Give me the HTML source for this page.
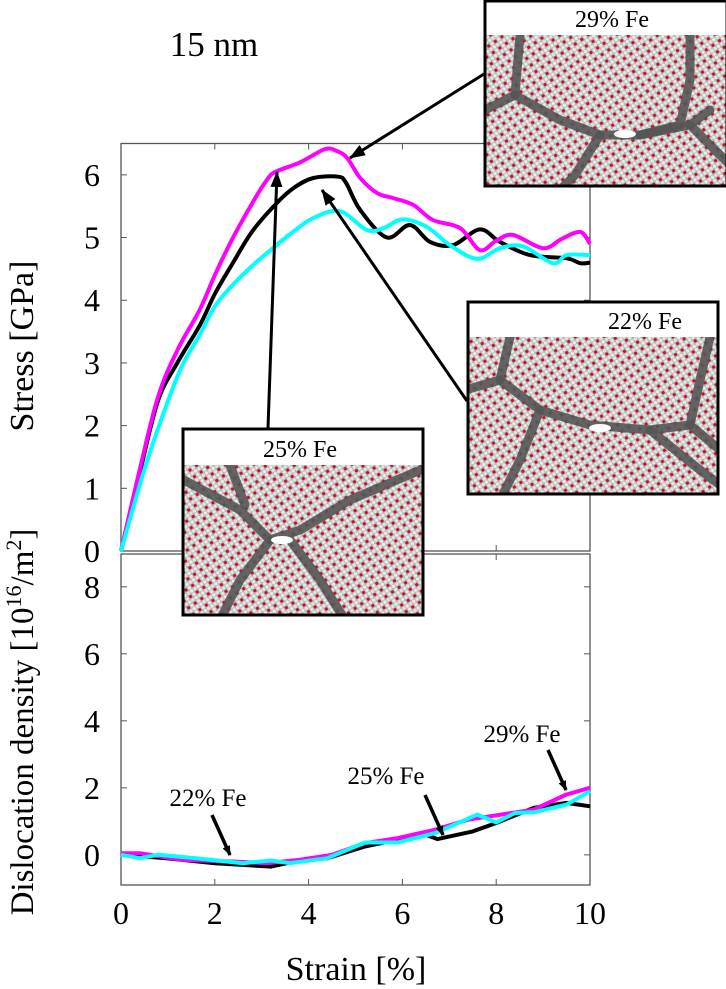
<!DOCTYPE html>
<html><head><meta charset="utf-8"><style>
html,body{margin:0;padding:0;background:#fff;}
svg{display:block;font-family:"Liberation Serif","DejaVu Serif",serif;}
</style></head><body>
<svg id="chart" width="726" height="989" viewBox="0 0 726 989" xmlns="http://www.w3.org/2000/svg">
<defs>
<pattern id="atoms" width="8" height="8" patternUnits="userSpaceOnUse" patternTransform="rotate(-35)">
<rect width="8" height="8" fill="#b4b4b4"/>
<circle cx="2" cy="2" r="1.7" fill="#ececec"/>
<circle cx="6" cy="2" r="1.7" fill="#e2e2e2"/>
<circle cx="2" cy="6" r="1.7" fill="#e6e6e6"/>
<circle cx="6" cy="6" r="1.6" fill="#cc1020"/>
</pattern>
<marker id="ah" markerWidth="10" markerHeight="8" refX="9" refY="4" orient="auto" markerUnits="userSpaceOnUse"><path d="M0,0 L10,4 L0,8 z" fill="#000"/></marker>
<marker id="ahb" markerWidth="16" markerHeight="12" refX="15" refY="6" orient="auto" markerUnits="userSpaceOnUse"><path d="M0,0 L16,6 L0,12 z" fill="#000"/></marker>
</defs>
<text x="214" y="56" font-size="35" text-anchor="middle">15 nm</text>
<g id="gtop"></g>
<g id="gbot"></g>
<text transform="translate(33,346) rotate(-90)" font-size="34" text-anchor="middle">Stress [GPa]</text>
<text transform="translate(33,722) rotate(-90)" font-size="33" text-anchor="middle">Dislocation density [10<tspan baseline-shift="super" font-size="22">16</tspan>/m<tspan baseline-shift="super" font-size="22">2</tspan>]</text>
<text x="356" y="980" font-size="34" text-anchor="middle">Strain [%]</text>
<g id="insets"></g>
<g id="annot"></g>
</svg>
<script>
const strainM=[0,0.4,0.79,1.2,1.68,2.0,2.39,2.8,3.11,3.3,3.82,4.35,4.6,4.82,5.1,5.46,5.8,6.23,6.65,7.23,7.65,8.0,8.36,9.0,9.4,9.79,10];
const stressM=[0,1.3,2.46,3.2,3.85,4.4,5.0,5.55,5.92,6.05,6.2,6.41,6.38,6.27,5.95,5.71,5.63,5.52,5.28,5.15,4.8,4.95,5.04,4.83,4.98,5.09,4.9];
const strainK=[0,0.4,0.79,1.2,1.68,2.0,2.39,2.8,3.32,3.7,4.1,4.63,4.8,5.1,5.67,6.16,6.59,7.08,7.65,8.08,8.72,9.5,9.79,10];
const stressK=[0,1.25,2.4,3.0,3.6,4.1,4.6,5.1,5.55,5.8,5.95,5.97,5.87,5.44,5.0,5.2,4.93,4.88,5.13,4.93,4.72,4.67,4.59,4.6];
const strainC=[0,0.5,0.98,1.3,1.68,2.0,2.39,2.8,3.11,3.6,4.1,4.67,5.24,5.6,6.0,6.52,7.01,7.59,8.08,8.57,9.21,9.5,10];
const stressC=[0,1.3,2.35,2.95,3.45,3.9,4.25,4.55,4.75,5.05,5.31,5.42,5.12,5.15,5.29,5.17,4.88,4.66,4.83,4.86,4.59,4.72,4.72];
const dStrainM=[0,0.4,1.3,2.4,3.1,3.8,4.5,5.2,5.9,6.7,7.4,8.1,8.8,9.5,10];
const dispM=[0.05,0.05,-0.15,-0.2,-0.25,-0.15,0,0.35,0.5,0.75,1.05,1.2,1.35,1.8,2.0];
const dStrainK=[0,0.97,2.0,3.2,3.8,4.4,5.2,5.9,6.4,6.75,7.5,8.0,8.8,9.5,10];
const dispK=[0,-0.1,-0.25,-0.35,-0.17,-0.1,0.25,0.45,0.65,0.47,0.7,0.95,1.4,1.55,1.45];
const dStrainC=[0,0.4,0.8,1.6,2.6,3.2,3.6,4.4,5.2,5.9,6.7,7.6,8.0,8.4,8.8,9.5,10];
const dispC=[0,-0.1,0,-0.1,-0.25,-0.17,-0.25,-0.1,0.37,0.37,0.65,1.2,0.97,1.25,1.27,1.5,1.9];
const xTicks=[0,2,4,6,8,10];
const stressTicks=[0,1,2,3,4,5,6];
const dispTicks=[0,2,4,6,8];

const NS="http://www.w3.org/2000/svg";
const X0=121,X1=590;
const sx=v=>X0+(v/10)*(X1-X0);
const T0=143.5,T1=551,tMax=6.5;
const sy=v=>T1-(v/tMax)*(T1-T0);
const B0=554,B1=885,bMin=-0.9,bMax=8.98;
const by=v=>B1-(v-bMin)/(bMax-bMin)*(B1-B0);
function mk(tag,attrs,parent){const e=document.createElementNS(NS,tag);for(const k in attrs)e.setAttribute(k,attrs[k]);parent.appendChild(e);return e;}
const gTop=document.getElementById('gtop'),gBot=document.getElementById('gbot');

function frame(g,y0,y1,yt,ys){
  const r=mk('rect',{x:X0,y:y0,width:X1-X0,height:y1-y0,fill:'none',stroke:'#555','stroke-width':1.3},g);
  
  
  xTicks.forEach(t=>{
    const a=mk('line',{x1:sx(t),x2:sx(t),y1:y1,y2:y1-6,stroke:'#555'},g);
    
    
    const b=mk('line',{x1:sx(t),x2:sx(t),y1:y0,y2:y0+6,stroke:'#555'},g);
    
    
  });
  yt.forEach(t=>{
    const a=mk('line',{x1:X0,x2:X0+6,y1:ys(t),y2:ys(t),stroke:'#555'},g);
    
    
    const b=mk('line',{x1:X1,x2:X1-6,y1:ys(t),y2:ys(t),stroke:'#555'},g);
    
    
    const tx=mk('text',{x:92,y:ys(t)+11,'font-size':32,'text-anchor':'middle'},g);
    tx.textContent=t;
    
    
  });
}
frame(gTop,T0,T1,stressTicks,sy);
frame(gBot,B0,B1,dispTicks,by);
xTicks.forEach(t=>{
  const tx=mk('text',{x:sx(t),y:924,'font-size':32,'text-anchor':'middle'},gBot);
  tx.textContent=t;
  
  
});
function series(g,xs,ys,fx,fy,color,name,smooth){
  const P=xs.map((v,i)=>[fx(v),fy(ys[i])]);
  let d='M'+P[0][0].toFixed(1)+','+P[0][1].toFixed(1);
  for(let i=0;i<P.length-1;i++){
    if(!smooth){d+=' L'+P[i+1][0].toFixed(1)+','+P[i+1][1].toFixed(1);continue;}
    const p0=P[Math.max(i-1,0)],p1=P[i],p2=P[i+1],p3=P[Math.min(i+2,P.length-1)];
    const c1=[p1[0]+(p2[0]-p0[0])/6,p1[1]+(p2[1]-p0[1])/6];
    const c2=[p2[0]-(p3[0]-p1[0])/6,p2[1]-(p3[1]-p1[1])/6];
    d+=' C'+c1.map(n=>n.toFixed(1)).join(',')+' '+c2.map(n=>n.toFixed(1)).join(',')+' '+p2.map(n=>n.toFixed(1)).join(',');
  }
  const p=mk('path',{d:d,fill:'none',stroke:color,'stroke-width':4,'stroke-linejoin':'round'},g);
  
  
}
series(gTop,strainK,stressK,sx,sy,'#000','stress-line-25fe',true);
series(gTop,strainM,stressM,sx,sy,'#ff00ff','stress-line-29fe',true);
series(gTop,strainC,stressC,sx,sy,'#00ffff','stress-line-22fe',true);
series(gBot,dStrainK,dispK,sx,by,'#000','dislocation-line-25fe',false);
series(gBot,dStrainM,dispM,sx,by,'#ff00ff','dislocation-line-29fe',false);
series(gBot,dStrainC,dispC,sx,by,'#00ffff','dislocation-line-22fe',false);

const ann=document.getElementById('annot');
function arrow(x1,y1,x2,y2,m,w,name){
  const l=mk('line',{x1:x1,y1:y1,x2:x2,y2:y2,stroke:'#000','stroke-width':w,'marker-end':'url(#'+m+')'},ann);
  
  
}
arrow(484,74,350,158,'ahb',3,'arrow-29fe');
arrow(467,401,322,190,'ahb',3,'arrow-22fe');
arrow(268,428,277,172,'ahb',3,'arrow-25fe');
arrow(212,815,230,855,'ah',3.5,'arrow-22fe-density');
arrow(425,795,443,835,'ah',3.5,'arrow-25fe-density');
arrow(548,750,566,790,'ah',3.5,'arrow-29fe-density');
[['22% Fe',208,806],['25% Fe',386,784],['29% Fe',522,742]].forEach(a=>{
  const t=mk('text',{x:a[1],y:a[2],'font-size':25,'text-anchor':'middle'},ann);
  t.textContent=a[0];
  
  
});

const ins=document.getElementById('insets');
function inset(x,y,w,h,th,label,lx,gb,voidPt,name){
  const g=mk('g',{},ins);
  
  
  mk('rect',{x:x,y:y,width:w,height:h,fill:'#fff'},g);
  mk('rect',{x:x,y:y+th,width:w,height:h-th,fill:'url(#atoms)'},g);
  const cp=mk('clipPath',{id:'cp-'+name},g);
  mk('rect',{x:x,y:y+th,width:w,height:h-th},cp);
  const gg=mk('g',{'clip-path':'url(#cp-'+name+')'},g);
  gb.forEach(d=>mk('path',{d:d,fill:'none',stroke:'#555','stroke-width':9,'stroke-linecap':'round','stroke-linejoin':'round',opacity:0.9},gg));
  mk('ellipse',{cx:voidPt[0],cy:voidPt[1],rx:11,ry:4,fill:'#fff'},g);
  mk('rect',{x:x,y:y,width:w,height:h,fill:'none',stroke:'#000','stroke-width':3},g);
  const t=mk('text',{x:lx,y:y+th-8,'font-size':24,'text-anchor':'middle'},g);
  t.textContent=label;
  
  
}
inset(485,1,242,185,34,'29% Fe',612,
 ['M520,35 L515,95 L485,110','M515,95 L560,120 L600,135 L640,135 L680,125 L690,80 L690,35','M600,135 L575,175 L560,190','M640,135 L690,125 L730,165','M690,125 L710,110'],
 [625,134],'inset-29fe');
inset(468,302,250,192,35,'22% Fe',645,
 ['M510,337 L500,380 L540,410 L590,425 L650,430 L690,425 L720,450','M500,380 L465,390','M540,410 L520,460 L500,500','M690,425 L700,380 L710,337','M650,430 L700,470 L720,485'],
 [600,428],'inset-22fe');
inset(183,429,240,186,36,'25% Fe',300,
 ['M180,478 L240,510 L270,540 L240,580 L220,620','M270,540 L300,530 L350,500 L425,468','M290,540 L320,580 L345,620','M230,465 L245,505'],
 [282,540],'inset-25fe');
</script>
</body></html>
